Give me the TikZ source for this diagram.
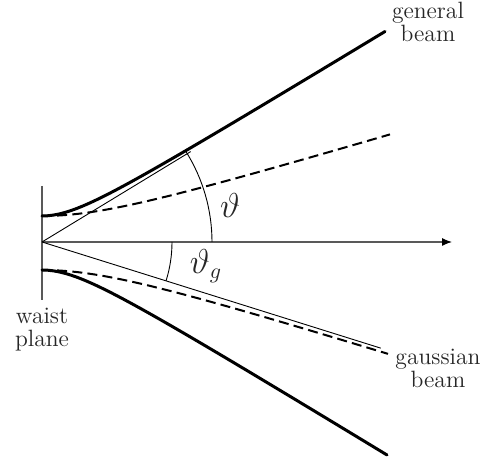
\documentclass[tikz,border=0pt]{standalone}
\usepackage{amsmath}
\usepackage{xcolor}
\usepackage{tikz}
\usetikzlibrary{positioning,arrows.meta}
\tikzset{
  beam/.style={line width=1.5pt, line cap=round},
  gbeam/.style={line width=1pt, dash pattern=on 5pt off 2.6pt},
  asym/.style={line width=0.45pt},
  plane/.style={line width=0.6pt, draw=black!65},
  lbl/.style={font=\fontsize{11.8}{11.5}\selectfont, text=black!85, align=center, inner sep=1pt},
  ang/.style={font=\fontsize{16}{16}\selectfont, text=black!85, inner sep=1pt},
}
\begin{document}
\begin{tikzpicture}[x=0.5pt, y=0.5pt]
\useasboundingbox (-42,242) rectangle (441,-217);
\coordinate (O) at (0,0);
\coordinate (axend) at (410,0);
\coordinate (wtop) at (0,56);
\coordinate (wbot) at (0,-58);
% waist plane and axis
\draw[plane] (wtop) -- (wbot);
\draw[plane, -{Latex[length=5pt, width=4pt, black]}] (O) -- (axend);
% general beam
\draw[beam] plot[domain=0:34.3, samples=60] ({10*\x}, {10*sqrt(2.6^2+(0.609*\x)^2)});
\draw[beam] plot[domain=0:34.5, samples=60] ({10*\x}, {-10*sqrt(2.8^2+(0.612*\x)^2)});
% gaussian beam
\draw[gbeam] plot[domain=0:34.8, samples=40] ({10*\x}, {10*sqrt(2.6^2+(0.30*\x)^2)});
\draw[gbeam] plot[domain=0:34.6, samples=40] ({10*\x}, {-10*sqrt(2.8^2+(0.313*\x)^2)});
% asymptotes and angles
\draw[asym] (O) -- (31.3:174) coordinate (ta);
\draw[asym] (O) -- (-17.4:355) coordinate (tg);
\draw[asym] (170,0) arc[start angle=0, end angle=32, radius=170];
\draw[asym] (130,0) arc[start angle=0, end angle=-17.4, radius=130];
\node[ang] (th) at (188,36) {$\vartheta$};
\node[ang] (thg) at (164,-24) {$\vartheta_g$};
\node[lbl] (genl) at (386,220) {general\\beam};
\node[lbl] (gaul) at (396,-126) {gaussian\\beam};
\node[lbl, below=3pt of wbot] (wpl) {waist\\plane};
\end{tikzpicture}
\end{document}
